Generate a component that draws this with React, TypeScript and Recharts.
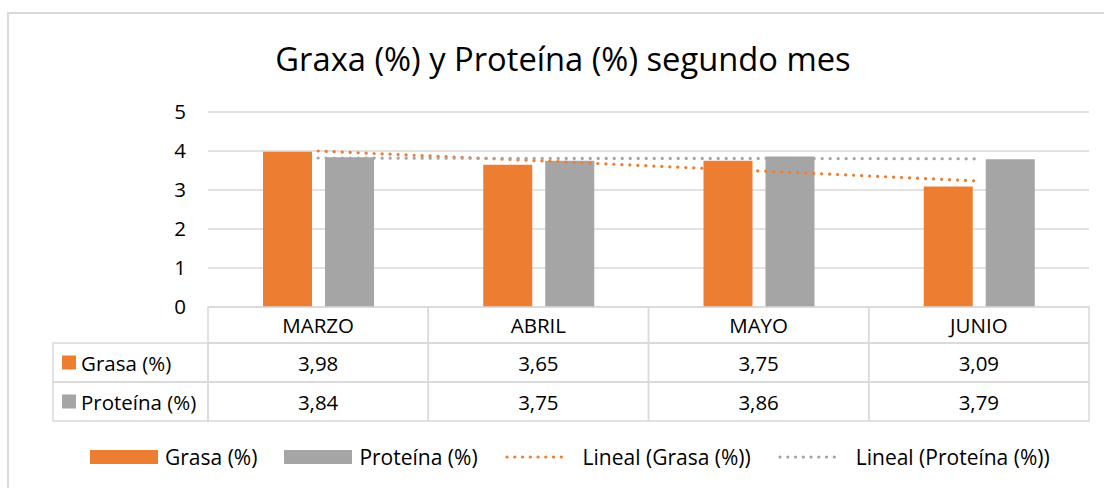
import React from 'react';
import { ComposedChart, Bar, Line, XAxis, YAxis, CartesianGrid, Legend } from 'recharts';

// ---- data ----
const categories = ['MARZO', 'ABRIL', 'MAYO', 'JUNIO'];
const grasa = [3.98, 3.65, 3.75, 3.09];
const proteina = [3.84, 3.75, 3.86, 3.79];
const grasaTrend = [4.0, 3.75, 3.49, 3.23];
const proteinaTrend = [3.82, 3.81, 3.81, 3.8];
const yTicks = [0, 1, 2, 3, 4, 5];
const seriesNames = ['Grasa (%)', 'Proteína (%)', 'Lineal (Grasa (%))', 'Lineal (Proteína (%))'];
const title = 'Graxa (%) y Proteína (%) segundo mes';

const data = categories.map((c, i) => ({
  cat: c,
  grasa: grasa[i],
  proteina: proteina[i],
  grasaTrend: grasaTrend[i],
  proteinaTrend: proteinaTrend[i],
}));

// ---- styles ----
const W = 1104;
const H = 488;
const ORANGE = '#ED7D31';
const GRAY = '#A5A5A5';
const BORDER = '#D9D9D9';
const FONT = '"Open Sans", Lato, sans-serif';
const FS = 20.5;
const TEXT = '#000000';
const YAXIS_W = 40;
const MARGIN = { top: 112, left: 208 - YAXIS_W, right: 15, bottom: 66 };
const XAXIS_H = 115;
const BAND = (W - 208 - MARGIN.right) / categories.length;
const HEADER_H = 36;
const ROW_H = 39;
const LABEL_COL_W = 155;

const fmt = (v: number) => v.toFixed(2).replace('.', ',');

const rows = [
  { name: seriesNames[0], values: grasa, color: ORANGE },
  { name: seriesNames[1], values: proteina, color: GRAY },
];

const TableTick = (props: any) => {
  const { x, y, payload } = props;
  const i = payload.index;
  const left = x - BAND / 2;
  const cellText = {
    fontFamily: FONT,
    fontSize: FS,
    fill: TEXT,
  };
  return (
    <g>
      <rect x={left} y={y} width={BAND} height={HEADER_H} fill="none" stroke={BORDER} strokeWidth={1.5} />
      <text x={x} y={y + HEADER_H / 2} textAnchor="middle" dominantBaseline="central" {...cellText}>
        {payload.value}
      </text>
      {rows.map((r, ri) => {
        const ry = y + HEADER_H + ri * ROW_H;
        return (
          <g key={ri}>
            <rect x={left} y={ry} width={BAND} height={ROW_H} fill="none" stroke={BORDER} strokeWidth={1.5} />
            <text x={x} y={ry + ROW_H / 2} textAnchor="middle" dominantBaseline="central" {...cellText}>
              {fmt(r.values[i])}
            </text>
          </g>
        );
      })}
      {i === 0 &&
        rows.map((r, ri) => {
          const ry = y + HEADER_H + ri * ROW_H;
          const lx = left - LABEL_COL_W;
          return (
            <g key={'l' + ri}>
              <rect x={lx} y={ry} width={LABEL_COL_W} height={ROW_H} fill="none" stroke={BORDER} strokeWidth={1.5} />
              <rect x={lx + 9} y={ry + ROW_H / 2 - 7} width={14} height={14} fill={r.color} />
              <text x={lx + 28} y={ry + ROW_H / 2} textAnchor="start" dominantBaseline="central" {...cellText}>
                {r.name}
              </text>
            </g>
          );
        })}
    </g>
  );
};

const legendItems = [
  { name: seriesNames[0], color: ORANGE, kind: 'bar' },
  { name: seriesNames[1], color: GRAY, kind: 'bar' },
  { name: seriesNames[2], color: ORANGE, kind: 'dot' },
  { name: seriesNames[3], color: GRAY, kind: 'dot' },
];

const LegendContent = () => (
  <div style={{ display: 'flex', alignItems: 'center', fontFamily: FONT, fontSize: 21, color: TEXT, whiteSpace: 'nowrap' }}>
    {legendItems.map((it, k) => (
      <div key={k} style={{ display: 'flex', alignItems: 'center', marginRight: 27 }}>
        {it.kind === 'bar' ? (
          <div style={{ width: 68, height: 14, background: it.color, marginRight: 7 }} />
        ) : (
          <svg width={66} height={14} style={{ marginRight: 12 }}>
            <line x1={2} y1={7} x2={64} y2={7} stroke={it.color} strokeWidth={3.2} strokeLinecap="round" strokeDasharray="0.1 7.65" />
          </svg>
        )}
        <span>{it.name}</span>
      </div>
    ))}
  </div>
);

export default function App() {
  return (
    <div style={{ position: 'absolute', left: 0, top: 0, width: W, height: H, overflow: 'hidden', background: '#fff' }}>
      <div
        style={{
          position: 'absolute',
          left: 7,
          top: 12,
          width: 1200,
          height: 600,
          borderTop: `2px solid ${BORDER}`,
          borderLeft: `2px solid ${BORDER}`,
        }}
      />
      <div
        style={{
          position: 'absolute',
          left: 0,
          top: 39,
          width: 1126,
          textAlign: 'center',
          fontFamily: FONT,
          fontSize: 32.7,
          lineHeight: '40px',
          color: TEXT,
        }}
      >
        {title}
      </div>
      <div style={{ position: 'absolute', left: 0, top: 0 }}>
        <ComposedChart width={W} height={H} data={data} margin={MARGIN} barGap={13}>
          <CartesianGrid horizontal vertical={false} stroke={BORDER} strokeWidth={1.5} />
          <XAxis
            dataKey="cat"
            height={XAXIS_H}
            axisLine={false}
            tickLine={false}
            tickSize={0}
            tickMargin={0}
            interval={0}
            tick={<TableTick />}
          />
          <YAxis
            domain={[0, 5]}
            ticks={yTicks}
            width={YAXIS_W}
            axisLine={false}
            tickLine={false}
            tickSize={0}
            tickMargin={22}
            tick={{ fontFamily: FONT, fontSize: FS, fill: TEXT }}
          />
          <Bar dataKey="grasa" name={seriesNames[0]} fill={ORANGE} barSize={49} isAnimationActive={false} />
          <Bar dataKey="proteina" name={seriesNames[1]} fill={GRAY} barSize={49} isAnimationActive={false} />
          <Line
            dataKey="grasaTrend"
            name={seriesNames[2]}
            stroke={ORANGE}
            strokeWidth={3.2}
            strokeLinecap="round"
            strokeDasharray="0.1 7.9"
            dot={false}
            activeDot={false}
            isAnimationActive={false}
          />
          <Line
            dataKey="proteinaTrend"
            name={seriesNames[3]}
            stroke={GRAY}
            strokeWidth={3.2}
            strokeLinecap="round"
            strokeDasharray="0.1 7.9"
            dot={false}
            activeDot={false}
            isAnimationActive={false}
          />
          <Legend
            layout="horizontal"
            verticalAlign="middle"
            align="center"
            content={<LegendContent />}
            wrapperStyle={{ left: 90, top: 443, width: 'auto' }}
          />
        </ComposedChart>
      </div>
    </div>
  );
}
